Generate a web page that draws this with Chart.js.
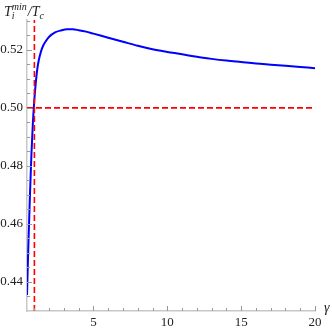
<!DOCTYPE html>
<html>
<head>
<meta charset="utf-8">
<script src="https://cdn.jsdelivr.net/npm/chart.js@4"></script>
<style>
  html, body { margin: 0; padding: 0; background: #fff; }
  #wrap { width: 332px; height: 330px; }
</style>
</head>
<body>
<div id="wrap"><canvas id="chart" width="332" height="330"></canvas></div>
<script>
// curve T_i^min / T_c against gamma
const gammaVals = [0.5, 0.6, 0.7, 0.8, 0.9, 1.0, 1.1, 1.2, 1.3, 1.45, 1.6, 1.8, 2.0, 2.4, 2.8, 3.2, 3.6, 4.0, 4.5,
  5, 6, 7, 8, 9, 10, 11, 12, 13, 14, 15, 16, 17, 18, 19, 20];
const ratioVals = [0.4355, 0.4540, 0.4700, 0.4840, 0.4950, 0.5030, 0.5090, 0.5135, 0.5165, 0.5195, 0.5215, 0.5232,
  0.5245, 0.5260, 0.5267, 0.5271, 0.5271, 0.5268, 0.5263,
  0.5256, 0.5242, 0.5228, 0.5214, 0.5202, 0.5193, 0.5185, 0.5176, 0.5169, 0.5163, 0.5158, 0.5153, 0.5149,
  0.5145, 0.5141, 0.5137];

// reference lines
const hLineY = 0.5;
const vLineX = 1;

// axes
const xRange = [0.5, 20];
const yRange = [0.43, 0.5303];
const xMajor = [5, 10, 15, 20];
const yMajor = [0.44, 0.46, 0.48, 0.50, 0.52];

const SERIF = '"Liberation Serif", "DejaVu Serif", serif';

function isMajor(v, list) {
  return list.some(m => Math.abs(m - v) < 1e-9);
}

// Mathematica-style inward ticks plus the axis titles
const frameTicks = {
  id: 'frameTicks',
  afterDraw(chart) {
    const { ctx, chartArea, scales } = chart;
    ctx.save();
    ctx.strokeStyle = '#999';
    ctx.lineWidth = 1;
    ctx.beginPath();
    for (const t of scales.x.ticks) {
      const px = Math.round(scales.x.getPixelForValue(t.value)) + 0.5;
      const len = isMajor(t.value, xMajor) ? 5 : 3;
      ctx.moveTo(px, chartArea.bottom);
      ctx.lineTo(px, chartArea.bottom - len);
    }
    for (const t of scales.y.ticks) {
      const py = Math.round(scales.y.getPixelForValue(t.value)) + 0.5;
      const len = isMajor(t.value, yMajor) ? 5 : 3;
      ctx.moveTo(chartArea.left, py);
      ctx.lineTo(chartArea.left + len, py);
    }
    ctx.stroke();

    // y title: T_i^min / T_c
    ctx.fillStyle = '#222';
    ctx.textBaseline = 'alphabetic';
    ctx.textAlign = 'left';
    let x = 4;
    const base = 16;
    ctx.font = 'italic 14px ' + SERIF;
    ctx.fillText('T', x, base);
    x += ctx.measureText('T').width;
    ctx.font = 'italic 10px ' + SERIF;
    ctx.fillText('min', x, base - 6);
    ctx.fillText('i', x, base + 3);
    x += ctx.measureText('min').width + 1;
    ctx.font = 'italic 14px ' + SERIF;
    ctx.fillText('/T', x, base);
    x += ctx.measureText('/T').width;
    ctx.font = 'italic 10px ' + SERIF;
    ctx.fillText('c', x, base + 3);

    // x title: gamma, at the end of the axis line
    ctx.font = 'italic 14px ' + SERIF;
    ctx.fillText('γ', chartArea.right + 9, chartArea.bottom + 1);
    ctx.restore();
  }
};

new Chart(document.getElementById('chart'), {
  type: 'scatter',
  data: {
    datasets: [
      {
        data: gammaVals.map((g, i) => ({ x: g, y: ratioVals[i] })),
        showLine: true,
        borderColor: '#0000ff',
        borderWidth: 2,
        pointRadius: 0,
        cubicInterpolationMode: 'monotone',
        order: 2
      },
      {
        data: [{ x: xRange[0], y: hLineY }, { x: xRange[1], y: hLineY }],
        showLine: true,
        borderColor: '#ff0000',
        borderWidth: 1.6,
        borderDash: [6, 3],
        pointRadius: 0,
        order: 1
      },
      {
        data: [{ x: vLineX, y: yRange[0] }, { x: vLineX, y: yRange[1] }],
        showLine: true,
        borderColor: '#ff0000',
        borderWidth: 1.6,
        borderDash: [6, 3],
        pointRadius: 0,
        order: 1
      }
    ]
  },
  options: {
    responsive: false,
    animation: false,
    layout: { padding: { top: 20, right: 17, left: 0, bottom: 0 } },
    plugins: { legend: { display: false }, tooltip: { enabled: false } },
    scales: {
      x: {
        type: 'linear',
        min: xRange[0],
        max: xRange[1],
        afterBuildTicks: s => {
          const t = [];
          for (let v = 1; v <= 20; v++) t.push({ value: v });
          s.ticks = t;
        },
        afterFit: s => { s.height = 19; },
        ticks: {
          autoSkip: false,
          maxRotation: 0,
          padding: 4,
          color: '#222',
          font: { family: SERIF, size: 13 },
          callback: v => isMajor(v, xMajor) ? String(v) : ''
        },
        grid: { display: false, drawTicks: false },
        border: { color: '#c8c8c8', width: 1.5 }
      },
      y: {
        type: 'linear',
        min: yRange[0],
        max: yRange[1],
        afterBuildTicks: s => {
          const t = [];
          for (let k = 87; k <= 106; k++) t.push({ value: k * 0.005 });
          s.ticks = t;
        },
        afterFit: s => { s.width = 27; },
        ticks: {
          autoSkip: false,
          padding: 4,
          color: '#222',
          font: { family: SERIF, size: 13 },
          callback: v => isMajor(v, yMajor) ? v.toFixed(2) : ''
        },
        grid: { display: false, drawTicks: false },
        border: { color: '#c8c8c8', width: 1.5 }
      }
    }
  },
  plugins: [frameTicks]
});
</script>
</body>
</html>
